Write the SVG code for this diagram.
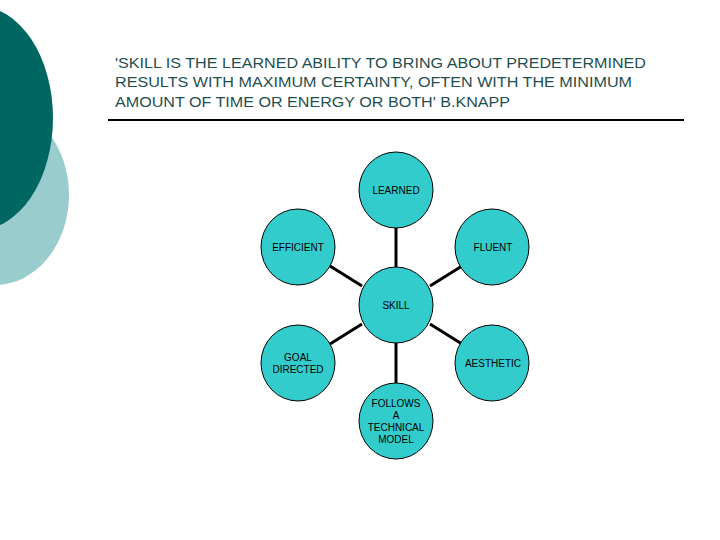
<svg xmlns="http://www.w3.org/2000/svg" width="720" height="540" viewBox="0 0 720 540">
<style>
.n{fill:#33CCCC;stroke:#000;stroke-width:1}
.t{font-family:"Liberation Sans",Arial,sans-serif;font-size:10px;fill:#000;text-anchor:middle}
.h{font-family:"Liberation Sans",Arial,sans-serif;font-size:15px;fill:#1F4F4F}
</style>
<rect width="720" height="540" fill="#fff"/>
<ellipse cx="-5" cy="195" rx="74" ry="90" fill="#99CCCC"/>
<ellipse cx="-22" cy="118" rx="75" ry="112" fill="#006661"/>
<text class="h" x="115" y="68" textLength="531" lengthAdjust="spacingAndGlyphs">'SKILL IS THE LEARNED ABILITY TO BRING ABOUT PREDETERMINED</text>
<text class="h" x="115" y="87" textLength="517" lengthAdjust="spacingAndGlyphs">RESULTS WITH MAXIMUM CERTAINTY, OFTEN WITH THE MINIMUM</text>
<text class="h" x="115" y="107" textLength="395" lengthAdjust="spacingAndGlyphs">AMOUNT OF TIME OR ENERGY OR BOTH'  B.KNAPP</text>
<line x1="108" y1="120" x2="684" y2="120" stroke="#000" stroke-width="2"/>
<g id="connectors" stroke="#000" stroke-width="3">
<line x1="396" y1="228" x2="396" y2="267"/>
<line x1="330" y1="266" x2="362" y2="286"/>
<line x1="462" y1="266" x2="430" y2="286"/>
<line x1="330" y1="344" x2="362" y2="324"/>
<line x1="462" y1="344" x2="430" y2="324"/>
<line x1="396" y1="343" x2="396" y2="383"/>
</g>
<g id="learned"><ellipse class="n" cx="396" cy="190" rx="37" ry="38"/><text class="t" x="396" y="194">LEARNED</text></g>
<g id="efficient"><ellipse class="n" cx="298" cy="247" rx="37" ry="38"/><text class="t" x="298" y="251">EFFICIENT</text></g>
<g id="fluent"><ellipse class="n" cx="492" cy="247" rx="37" ry="38"/><text class="t" x="493" y="251">FLUENT</text></g>
<g id="skill"><ellipse class="n" cx="396" cy="305" rx="37" ry="38"/><text class="t" x="396" y="309">SKILL</text></g>
<g id="goal"><ellipse class="n" cx="298" cy="363" rx="37" ry="38"/><text class="t" x="298" y="361">GOAL</text><text class="t" x="298" y="373">DIRECTED</text></g>
<g id="aesthetic"><ellipse class="n" cx="492" cy="363" rx="37" ry="38"/><text class="t" x="493" y="367">AESTHETIC</text></g>
<g id="follows"><ellipse class="n" cx="396" cy="421" rx="37" ry="38"/><text class="t" x="396" y="407">FOLLOWS</text><text class="t" x="396" y="419">A</text><text class="t" x="396" y="431">TECHNICAL</text><text class="t" x="396" y="443">MODEL</text></g>
</svg>
